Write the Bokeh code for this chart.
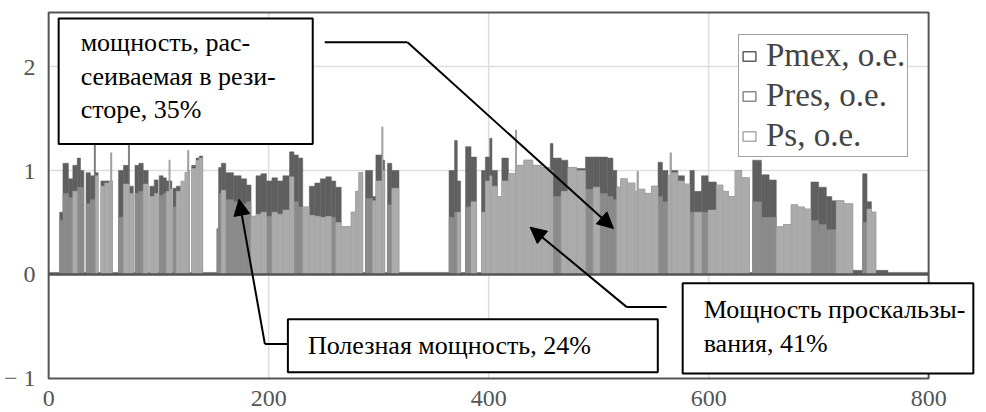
from bokeh.plotting import figure
from bokeh.models import Label, Arrow, NormalHead
from bokeh.embed import file_html
from bokeh.resources import INLINE

NAN = float("nan")

# ---------------- data (time in samples, power in о.е.) ----------------
# segment start times; each segment lasts until the next start (last one until t_end)
t_start = [
    0,
    10, 13, 18, 22, 26, 29, 32,
    34, 38, 41.5, 42.5, 45,
    47.5, 51, 55, 56.5, 57.3, 58,
    63.5, 68, 72.5, 73.5, 77,
    78.5, 82, 86, 90.5,
    92, 96, 99.5,
    100.5, 104, 107, 109.5, 110.3, 112,
    113, 116, 120, 124, 126.5, 127.3, 128,
    130, 134, 137, 140,
    153, 154.5, 157, 161, 168, 175, 180, 184, 188.5, 193, 198, 203, 208, 213,
    219, 223, 227, 231, 237, 242, 247, 252, 257, 261, 266, 275, 279, 282, 285.5,
    288, 294.5, 297.5, 303, 303.8, 305.5, 308, 312, 318.5,
    364, 369, 371.5, 374.5, 379, 384, 389,
    393.5, 397, 401, 403, 408, 412, 418, 424.5, 425.3, 432, 440, 448, 456, 458.5,
    466, 472, 480, 488, 495, 501, 508, 513, 516.5, 520, 526, 533, 535, 536, 542,
    548, 554, 558, 563, 565, 566, 572, 578, 583, 587, 593.5, 599.5, 607, 613, 618,
    624, 630, 637, 640, 648, 655, 661.5, 668, 675, 681, 687, 693, 700, 707, 712,
    716, 723, 731, 740, 744, 748, 752, 763,
]
t_end = 800

p_mex = [
    0.02,
    0.60, 1.07, 0.92, 1.05, 1.12, 1.00, 0.02,
    0.98, 0.95, 1.60, 0.98, 0.02,
    0.90, 0.90, 0.90, 1.17, 0.90, 0.02,
    1.00, 1.05, 1.60, 0.85, 0.02,
    1.05, 1.07, 1.00, 0.02,
    0.85, 0.91, 0.02,
    0.95, 0.93, 0.90, 1.10, 0.90, 0.02,
    0.83, 0.85, 0.85, 0.98, 1.19, 1.00, 0.02,
    1.05, 1.12, 1.14, 0.02,
    0.44, 1.03, 1.07, 0.98, 0.95, 0.92, 0.86, 0.56, 0.95, 0.97, 0.90, 0.93, 0.90, 0.95,
    1.18, 1.15, 1.12, 0.65, 0.85, 0.88, 0.92, 0.94, 0.90, 0.84, 0.46, 0.60, 0.80, 0.98, 0.02,
    1.00, 0.75, 1.15, 1.42, 1.10, 0.02, 1.07, 1.00, 0.02,
    1.00, 1.29, 0.90, 0.02, 1.23, 1.13, 0.02,
    1.00, 1.13, 1.31, 1.00, 0.75, 1.12, 0.97, 1.39, 1.05, 1.10, 1.05, 1.03, 1.26, 1.12,
    1.10, 1.03, 1.02, 1.13, 1.13, 1.13, 1.12, 1.00, 0.84, 0.92, 0.88, 0.80, 0.99, 0.82, 0.78,
    0.85, 1.08, 1.00, 0.95, 1.17, 1.00, 0.95, 0.87, 1.00, 0.80, 0.95, 0.89, 0.86, 0.80, 0.75,
    1.00, 0.93, 0.02, 1.10, 0.96, 0.91, 0.46, 0.48, 0.67, 0.65, 0.63, 0.89, 0.84, 0.75, 0.71,
    0.71, 0.68, 0.04, 0.97, 0.70, 0.60, 0.04, 0.02,
]

p_res = [
    0,
    0.52, 0.78, 0.74, 0, 0.84, 0.84, 0,
    0.68, 0.72, 0.72, 0, 0,
    0, 0, 0, 0, 0, 0,
    0.55, 0, 0, 0, 0,
    0.78, 0.80, 0, 0,
    0, 0, 0,
    0.76, 0.78, 0, 0, 0, 0,
    0.65, 0, 0, 0, 0, 0, 0,
    0, 0, 0, 0,
    0.44, 0.78, 0, 0.72, 0.70, 0.68, 0.70, 0, 0, 0, 0.56, 0, 0, 0,
    0, 0.70, 0.65, 0, 0, 0, 0, 0, 0.55, 0, 0, 0, 0, 0, 0,
    0.73, 0, 0, 0, 0, 0, 0.67, 0, 0,
    0.55, 0.60, 0, 0, 0.65, 0, 0,
    0, 0, 0, 0, 0, 0, 0, 0, 0, 0, 0, 0, 0, 0.75,
    0, 0, 0, 0.82, 0, 0.78, 0.75, 0.72, 0, 0, 0, 0, 0, 0, 0,
    0, 0.75, 0.70, 0, 0, 0, 0, 0, 0.60, 0, 0.60, 0, 0, 0, 0,
    0, 0, 0, 0.70, 0.55, 0.55, 0, 0, 0, 0, 0, 0.52, 0.48, 0.43, 0.43,
    0, 0, 0, 0.50, 0, 0, 0, 0,
]

p_s = [
    0,
    0, 0, 0, 0.80, 0, 0, 0,
    0, 0, 0, 0.95, 0,
    0.85, 0.88, 0.90, 1.17, 0.90, 0,
    0, 0.87, 0.87, 0.78, 0,
    0, 0, 0.87, 0,
    0.75, 0.78, 0,
    0, 0, 0.80, 1.10, 0.82, 0,
    0, 0.80, 0.90, 0.98, 1.19, 1.00, 0,
    1.02, 1.10, 1.12, 0,
    0, 0, 0.81, 0, 0, 0, 0, 0.56, 0.58, 0.60, 0, 0.60, 0.58, 0.62,
    0.94, 0, 0, 0.65, 0.57, 0.56, 0.55, 0.56, 0, 0.50, 0.46, 0.60, 0.80, 0.98, 0,
    0, 0.71, 0.90, 1.42, 1.00, 0, 0, 0.83, 0,
    0, 0, 0.60, 0, 0, 0.70, 0,
    0.60, 0.90, 0.95, 0.85, 0.75, 0.90, 0.97, 1.39, 1.05, 1.10, 1.05, 1.03, 1.00, 0,
    0.80, 1.03, 1.00, 0, 0.84, 0, 0, 0, 0.84, 0.92, 0.88, 0.80, 0.99, 0.82, 0.78,
    0.85, 0, 0, 0.95, 1.17, 0.98, 0.90, 0.87, 0, 0.60, 0, 0.62, 0.86, 0.80, 0.75,
    1.00, 0.93, 0, 0, 0, 0, 0.46, 0.48, 0.67, 0.65, 0.63, 0, 0, 0, 0,
    0.71, 0.68, 0, 0, 0.63, 0.60, 0, 0,
]

series_names = ["Pmex, о.е.", "Pres, о.е.", "Ps, о.е."]
series_colors = ["#5f5f5f", "#8b8b8b", "#ababab"]

x_ticks = [0, 200, 400, 600, 800]
y_ticks = [-1, 0, 1, 2]
y_tick_labels = ["− 1", "0", "1", "2"]
y_top = 2.52

# annotations (data coordinates)
box_texts = [
    "мощность, рас-\nсеиваемая в рези-\nсторе, 35%",
    "Полезная мощность, 24%",
    "Мощность проскальзы-\nвания, 41%",
]
box_x = [9.1, 217.5, 576.4]
box_y = [2.464, -0.43, -0.084]

leader_x = [[251.0, 326.2], [217.5, 196.6], [561.8, 525.6]]
leader_y = [[2.234, 2.234], [-0.670, -0.670], [-0.314, -0.314]]
arrow_tip_x = [513.5, 173.1, 437.7]
arrow_tip_y = [0.442, 0.724, 0.455]

# ---------------- figure ----------------
p = figure(width=986, height=412, x_range=(-1.95, 852.6), y_range=(-1.02, 2.54),
           output_backend="svg", toolbar_location=None,
           min_border_left=43, min_border_right=0, min_border_top=10, min_border_bottom=32)
p.outline_line_color = None
p.xgrid.visible = False
p.ygrid.visible = False

x0, x1 = x_ticks[0], x_ticks[-1]
y0 = y_ticks[0]
# grid lines (limited to the framed area)
gx = x_ticks[1:-1]
p.segment(x0=gx, y0=[y0] * len(gx), x1=gx, y1=[y_top] * len(gx),
          line_color="#dedede", line_width=1.5)
gy = [v for v in y_ticks if v > 0]
p.segment(x0=[x0] * len(gy), y0=gy, x1=[x1] * len(gy), y1=gy,
          line_color="#dedede", line_width=1.5)

t_right = t_start[1:] + [t_end]
for vals, col in zip([p_mex, p_res, p_s], series_colors):
    idx = [i for i, v in enumerate(vals) if v > 0]
    p.quad(left=[t_start[i] for i in idx], right=[t_right[i] for i in idx],
           bottom=0, top=[vals[i] for i in idx],
           fill_color=col, line_color=col, line_width=0.5)

# zero line and frame
p.segment(x0=[x0], y0=[0], x1=[x1], y1=[0], line_color="#555555", line_width=2.5)
p.quad(left=[x0], right=[x1], bottom=[y0], top=[y_top],
       fill_color=None, line_color="#555555", line_width=2)

# legend-only renderers (outlined pulse icons)
for name, col in zip(series_names, series_colors):
    p.quad(left=[NAN], right=[NAN], bottom=[NAN], top=[NAN], fill_color=None,
           line_color=col, line_width=1.5, legend_label=name)

for xs, ys, tx, ty in zip(leader_x, leader_y, arrow_tip_x, arrow_tip_y):
    p.line(xs, ys, line_color="black", line_width=2)
    p.add_layout(Arrow(end=NormalHead(size=16, fill_color="black", line_color="black"),
                       x_start=xs[-1], y_start=ys[-1], x_end=tx, y_end=ty,
                       line_color="black", line_width=2))

paddings = [dict(left=22, right=37, top=10, bottom=20),
            dict(left=20, right=67, top=12, bottom=12),
            dict(left=21, right=8, top=12, bottom=16)]
for txt, bx, by, pad in zip(box_texts, box_x, box_y, paddings):
    p.add_layout(Label(x=bx, y=by, text=txt, anchor="top_left",
                       text_align="left", text_baseline="top",
                       text_font="Liberation Serif", text_font_size="26px",
                       text_color="black", text_line_height=1.15,
                       background_fill_color="white", background_fill_alpha=1,
                       border_line_color="black", border_line_width=2,
                       padding=pad))

# axes
p.xaxis.ticker = x_ticks
p.yaxis.ticker = y_ticks
p.yaxis.major_label_overrides = {k: v for k, v in zip(y_ticks, y_tick_labels)}
for ax in (p.xaxis, p.yaxis):
    ax.axis_line_color = None
    ax.major_tick_line_color = None
    ax.minor_tick_line_color = None
    ax.major_label_text_font = "Liberation Serif"
    ax.major_label_text_font_size = "24px"
    ax.major_label_text_color = "#555555"
p.xaxis.major_label_standoff = 4
p.yaxis.major_label_standoff = 5

lg = p.legend[0]
lg.location = (692, 223)
lg.margin = 0
lg.padding = 2
lg.spacing = 3
lg.glyph_width = 16
lg.glyph_height = 12
lg.label_standoff = 9
lg.label_text_font = "Liberation Serif"
lg.label_text_font_size = "33px"
lg.label_text_color = "#444444"
lg.border_line_color = "#444444"
lg.border_line_width = 1.5
lg.background_fill_alpha = 1

open("out.html", "w").write(file_html(p, INLINE))
